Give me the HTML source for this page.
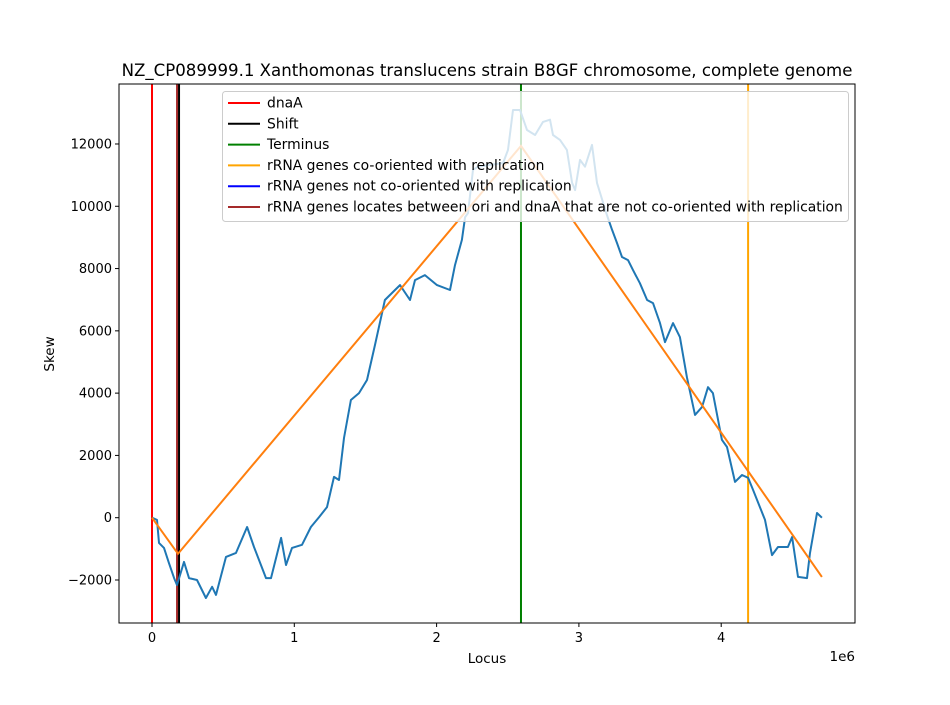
<!DOCTYPE html>
<html><head><meta charset="utf-8"><style>
body{margin:0;background:#fff;}
svg text{font-family:"DejaVu Sans","Liberation Sans",sans-serif;fill:#000;}
</style></head><body>
<svg id="chart" width="950" height="700" xmlns="http://www.w3.org/2000/svg">
<rect width="950" height="700" fill="#fff"/>
<text x="487" y="76" font-size="16.6" text-anchor="middle">NZ_CP089999.1 Xanthomonas translucens strain B8GF chromosome, complete genome</text>
<g id="plot"></g>
<text x="487" y="663" font-size="13.5" text-anchor="middle">Locus</text>
<text x="0" y="0" font-size="13.5" text-anchor="middle" transform="translate(54,354) rotate(-90)">Skew</text>
<text x="855" y="661" font-size="13.5" text-anchor="end">1e6</text>
</svg>
<script>
const skewX=[0,0.035,0.049,0.084,0.119,0.155,0.176,0.225,0.26,0.316,0.379,0.422,0.45,0.52,0.59,0.668,0.717,0.801,0.836,0.907,0.942,0.984,1.054,1.117,1.174,1.23,1.279,1.314,1.349,1.398,1.455,1.511,1.567,1.637,1.708,1.743,1.813,1.848,1.918,2.003,2.094,2.129,2.178,2.2,2.221,2.256,2.291,2.467,2.502,2.537,2.586,2.635,2.692,2.748,2.797,2.818,2.867,2.916,2.952,2.973,3.008,3.043,3.092,3.127,3.197,3.233,3.268,3.303,3.345,3.38,3.429,3.479,3.521,3.57,3.605,3.661,3.71,3.759,3.816,3.865,3.907,3.942,4.005,4.041,4.097,4.146,4.189,4.224,4.308,4.357,4.399,4.469,4.498,4.54,4.603,4.624,4.673,4.708];
const skewY=[0,-70,-810,-970,-1450,-1940,-2160,-1420,-1940,-2000,-2580,-2220,-2480,-1260,-1130,-300,-940,-1940,-1940,-650,-1520,-970,-870,-300,20,340,1310,1210,2560,3780,4000,4420,5550,6990,7310,7470,6990,7630,7790,7470,7310,8110,8920,9650,9780,11170,11270,11390,11810,13090,13090,12450,12290,12710,12780,12290,12130,11810,10750,10520,11490,11270,11970,10750,9720,9240,8820,8370,8270,7950,7530,6990,6890,6250,5640,6250,5800,4510,3300,3550,4190,4000,2500,2270,1150,1370,1280,890,-70,-1200,-940,-940,-620,-1900,-1940,-1130,150,0];
const fitX=[0,0.183,2.593,4.708];
const fitY=[0,-1160,11940,-1900];
const vlineX=[0,0.176,0.19,2.593,4.189];
const vlineColor=['#ff0000','#a52a2a','#000000','#008000','#ffa500'];
const xTicks=[0,1,2,3,4];
const yTicks=[-2000,0,2000,4000,6000,8000,10000,12000];
const legendLabels=['dnaA','Shift','Terminus','rRNA genes co-oriented with replication','rRNA genes not co-oriented with replication','rRNA genes locates between ori and dnaA that are not co-oriented with replication'];
const legendColors=['#ff0000','#000000','#008000','#ffa500','#0000ff','#a52a2a'];

const L=119,R=855,T=84,B=623;
const xs=v=>152+v*142.3;
const ys=v=>517.7-v*0.031143;
const NS='http://www.w3.org/2000/svg';
const g=document.getElementById('plot');
function mk(t,a){const e=document.createElementNS(NS,t);for(const k in a)e.setAttribute(k,a[k]);g.appendChild(e);return e;}
vlineX.forEach((v,i)=>{const e=mk('line',{x1:xs(v),x2:xs(v),y1:T,y2:B,stroke:vlineColor[i],'stroke-width':2});

});
let p=skewX.map((v,i)=>xs(v).toFixed(1)+','+ys(skewY[i]).toFixed(1)).join(' ');
let s=mk('polyline',{points:p,fill:'none',stroke:'#1f77b4','stroke-width':2,'stroke-linejoin':'round'});


p=fitX.map((v,i)=>xs(v).toFixed(1)+','+ys(fitY[i]).toFixed(1)).join(' ');
let f=mk('polyline',{points:p,fill:'none',stroke:'#ff7f0e','stroke-width':2});


let fr=mk('rect',{x:L,y:T,width:R-L,height:B-T,fill:'none',stroke:'#000','stroke-width':1});


xTicks.forEach(v=>{const x=xs(v);mk('line',{x1:x,x2:x,y1:B,y2:B+4,stroke:'#000'});
const t=mk('text',{x:x,y:B+19,'font-size':13,'text-anchor':'middle'});t.textContent=v;

});
yTicks.forEach(v=>{const y=ys(v);mk('line',{x1:L-4,x2:L,y1:y,y2:y,stroke:'#000'});
const t=mk('text',{x:L-7,y:y+4.5,'font-size':13,'text-anchor':'end'});t.textContent=v<0?'\u2212'+(-v):v;

});
const lg=mk('rect',{x:222.5,y:91.5,width:626,height:130,rx:3,fill:'#fff','fill-opacity':0.8,stroke:'#ccc'});


legendLabels.forEach((lab,i)=>{const y=103+i*20.8;
mk('line',{x1:228,x2:260,y1:y,y2:y,stroke:legendColors[i],'stroke-width':2});
const t=mk('text',{x:267,y:y+4.5,'font-size':13.9});t.textContent=lab;

});
</script>
</body></html>
